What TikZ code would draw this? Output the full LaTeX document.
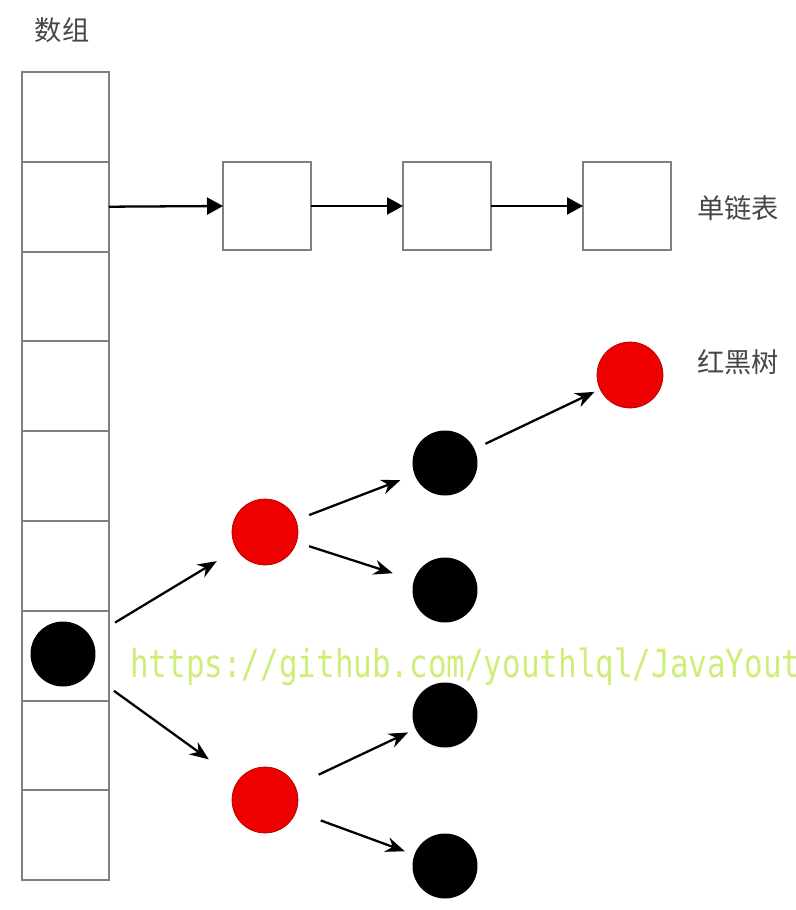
\documentclass[tikz,border=0pt]{standalone}
\usepackage{fontspec}
\setmainfont{Noto Sans CJK SC}
\newfontfamily\urlfont{DejaVu Sans Mono}
\usetikzlibrary{arrows.meta}

\definecolor{boxgray}{RGB}{128,128,128}
\definecolor{nodered}{RGB}{238,0,0}
\definecolor{wmgreen}{RGB}{205,238,120}
\definecolor{labelgray}{RGB}{70,70,70}

\begin{document}
\begin{tikzpicture}[
  x=0.02cm, y=-0.02cm,
  cell/.style={draw=boxgray, line width=1.2pt, minimum width=1.74cm, minimum height=1.796cm, inner sep=0, outer sep=0},
  lbox/.style={draw=boxgray, line width=1pt, minimum size=1.76cm, inner sep=0, outer sep=0},
  blk/.style={circle, fill=black, minimum size=1.3cm, inner sep=0},
  rd/.style={circle, fill=nodered, draw=nodered!75!black, minimum size=1.32cm, inner sep=0},
  lab/.style={text=labelgray, font=\fontsize{15.5}{18}\selectfont},
  larr/.style={-{Triangle[length=0.32cm,width=0.34cm]}, line width=1.3pt},
  tarr/.style={-{Stealth[length=0.38cm,width=0.3cm]}, line width=1.3pt},
]

\useasboundingbox (0,0) rectangle (795,910);

\node [lab] (arrlab) at (62,30) {数组};
\foreach \i in {1,...,9}
  \node [cell] (c\i) at (65.5,{72+89.8*(\i-0.5)}) {};

\node [lbox] (l1) at (267,206) {};
\node [lbox] (l2) at (447,206) {};
\node [lbox] (l3) at (627,206) {};
\node [lab] (listlab) at (738,208) {单链表};

\draw [larr] (c2.east) -- (l1.west);
\draw [larr] (l1.east) -- (l2.west);
\draw [larr] (l2.east) -- (l3.west);

\node [anchor=west, inner sep=0, xscale=0.8, transform shape, text=wmgreen, font=\urlfont\fontsize{22}{24}\selectfont] (url) at (130,667) {https://github.com/youthlql/JavaYouth};

\node [blk] (root) at (63,654) {};
\node [rd] (r1) at (265,532) {};
\node [rd] (r2) at (265,800) {};
\node [blk] (b1) at (445,463) {};
\node [blk] (b2) at (445,590) {};
\node [blk] (b3) at (445,715) {};
\node [blk] (b4) at (445,866) {};
\node [rd] (rt) at (630,375) {};
\node [lab] (treelab) at (738,362) {红黑树};

\draw [tarr, shorten <=0.56cm, shorten >=0.46cm] (root) -- (r1);
\draw [tarr, shorten <=0.6cm, shorten >=0.72cm] (root) -- (r2);
\draw [tarr, shorten <=0.28cm, shorten >=0.3cm] (r1) -- (b1);
\draw [tarr, shorten <=0.26cm, shorten >=0.44cm] (r1) -- (b2);
\draw [tarr, shorten <=0.52cm, shorten >=0.16cm] (r2) -- (b3);
\draw [tarr, shorten <=0.52cm, shorten >=0.2cm] (r2) -- (b4);
\draw [tarr, shorten <=0.24cm, shorten >=0.12cm] (b1) -- (rt);

\end{tikzpicture}
\end{document}
